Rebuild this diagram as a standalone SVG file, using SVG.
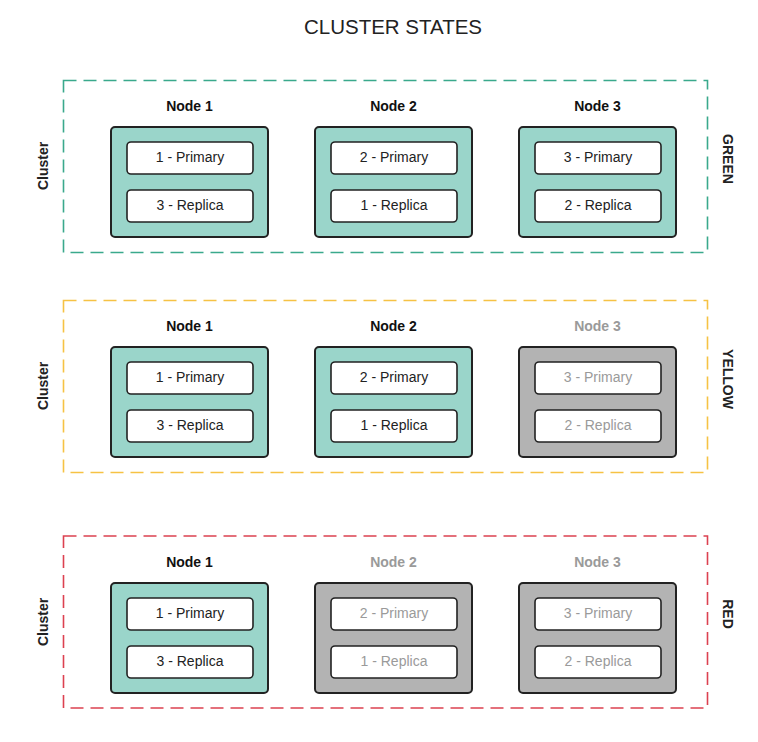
<svg xmlns="http://www.w3.org/2000/svg" width="758" height="742" viewBox="0 0 758 742">
<style>
text{font-family:"Liberation Sans",Arial,sans-serif}
.title{font-size:20.5px;fill:#222;text-anchor:middle}
.cl{fill:none;stroke-width:1.6;stroke-dasharray:13 7}
.g{stroke:#3aa98c}
.y{stroke:#f6c244}
.r{stroke:#dc4150}
.side{font-size:14px;font-weight:bold;fill:#222;text-anchor:middle}
.nl{font-size:14px;font-weight:bold;fill:#111;text-anchor:middle}
.nl.off{fill:#9a9a9a}
.node{stroke:#222;stroke-width:2;fill:#9ad5ca}
.node.off{fill:#b3b3b3}
.shard{fill:#fff;stroke:#222;stroke-width:1.6}
.st{font-size:14px;fill:#222;text-anchor:middle}
.st.off{fill:#9a9a9a}
</style>
<rect width="758" height="742" fill="#fff"/>
<text class="title" x="393" y="34">CLUSTER STATES</text>

<g id="cluster-green">
<rect class="cl g" x="63.5" y="80.5" width="644" height="172"/>
<text class="side" transform="translate(48,166) rotate(-90)">Cluster</text>
<text class="side" transform="translate(723,159) rotate(90)">GREEN</text>
</g>
<g id="green-node1">
<text class="nl" x="189.5" y="111">Node 1</text>
<rect class="node" x="111" y="127" width="157" height="110" rx="4"/>
<rect class="shard" x="127" y="142" width="126" height="32" rx="4"/>
<text class="st" x="190" y="162">1 - Primary</text>
<rect class="shard" x="127" y="190" width="126" height="32" rx="4"/>
<text class="st" x="190" y="210">3 - Replica</text>
</g>
<g id="green-node2">
<text class="nl" x="393.5" y="111">Node 2</text>
<rect class="node" x="315" y="127" width="157" height="110" rx="4"/>
<rect class="shard" x="331" y="142" width="126" height="32" rx="4"/>
<text class="st" x="394" y="162">2 - Primary</text>
<rect class="shard" x="331" y="190" width="126" height="32" rx="4"/>
<text class="st" x="394" y="210">1 - Replica</text>
</g>
<g id="green-node3">
<text class="nl" x="597.5" y="111">Node 3</text>
<rect class="node" x="519" y="127" width="157" height="110" rx="4"/>
<rect class="shard" x="535" y="142" width="126" height="32" rx="4"/>
<text class="st" x="598" y="162">3 - Primary</text>
<rect class="shard" x="535" y="190" width="126" height="32" rx="4"/>
<text class="st" x="598" y="210">2 - Replica</text>
</g>

<g id="cluster-yellow">
<rect class="cl y" x="63.5" y="300.5" width="644" height="172"/>
<text class="side" transform="translate(48,386) rotate(-90)">Cluster</text>
<text class="side" transform="translate(723,379) rotate(90)">YELLOW</text>
</g>
<g id="yellow-node1">
<text class="nl" x="189.5" y="331">Node 1</text>
<rect class="node" x="111" y="347" width="157" height="110" rx="4"/>
<rect class="shard" x="127" y="362" width="126" height="32" rx="4"/>
<text class="st" x="190" y="382">1 - Primary</text>
<rect class="shard" x="127" y="410" width="126" height="32" rx="4"/>
<text class="st" x="190" y="430">3 - Replica</text>
</g>
<g id="yellow-node2">
<text class="nl" x="393.5" y="331">Node 2</text>
<rect class="node" x="315" y="347" width="157" height="110" rx="4"/>
<rect class="shard" x="331" y="362" width="126" height="32" rx="4"/>
<text class="st" x="394" y="382">2 - Primary</text>
<rect class="shard" x="331" y="410" width="126" height="32" rx="4"/>
<text class="st" x="394" y="430">1 - Replica</text>
</g>
<g id="yellow-node3">
<text class="nl off" x="597.5" y="331">Node 3</text>
<rect class="node off" x="519" y="347" width="157" height="110" rx="4"/>
<rect class="shard" x="535" y="362" width="126" height="32" rx="4"/>
<text class="st off" x="598" y="382">3 - Primary</text>
<rect class="shard" x="535" y="410" width="126" height="32" rx="4"/>
<text class="st off" x="598" y="430">2 - Replica</text>
</g>

<g id="cluster-red">
<rect class="cl r" x="63.5" y="536" width="644" height="172"/>
<text class="side" transform="translate(48,622) rotate(-90)">Cluster</text>
<text class="side" transform="translate(723,614) rotate(90)">RED</text>
</g>
<g id="red-node1">
<text class="nl" x="189.5" y="567">Node 1</text>
<rect class="node" x="111" y="583" width="157" height="110" rx="4"/>
<rect class="shard" x="127" y="598" width="126" height="32" rx="4"/>
<text class="st" x="190" y="618">1 - Primary</text>
<rect class="shard" x="127" y="646" width="126" height="32" rx="4"/>
<text class="st" x="190" y="666">3 - Replica</text>
</g>
<g id="red-node2">
<text class="nl off" x="393.5" y="567">Node 2</text>
<rect class="node off" x="315" y="583" width="157" height="110" rx="4"/>
<rect class="shard" x="331" y="598" width="126" height="32" rx="4"/>
<text class="st off" x="394" y="618">2 - Primary</text>
<rect class="shard" x="331" y="646" width="126" height="32" rx="4"/>
<text class="st off" x="394" y="666">1 - Replica</text>
</g>
<g id="red-node3">
<text class="nl off" x="597.5" y="567">Node 3</text>
<rect class="node off" x="519" y="583" width="157" height="110" rx="4"/>
<rect class="shard" x="535" y="598" width="126" height="32" rx="4"/>
<text class="st off" x="598" y="618">3 - Primary</text>
<rect class="shard" x="535" y="646" width="126" height="32" rx="4"/>
<text class="st off" x="598" y="666">2 - Replica</text>
</g>
<g id="connectors"></g>
</svg>
